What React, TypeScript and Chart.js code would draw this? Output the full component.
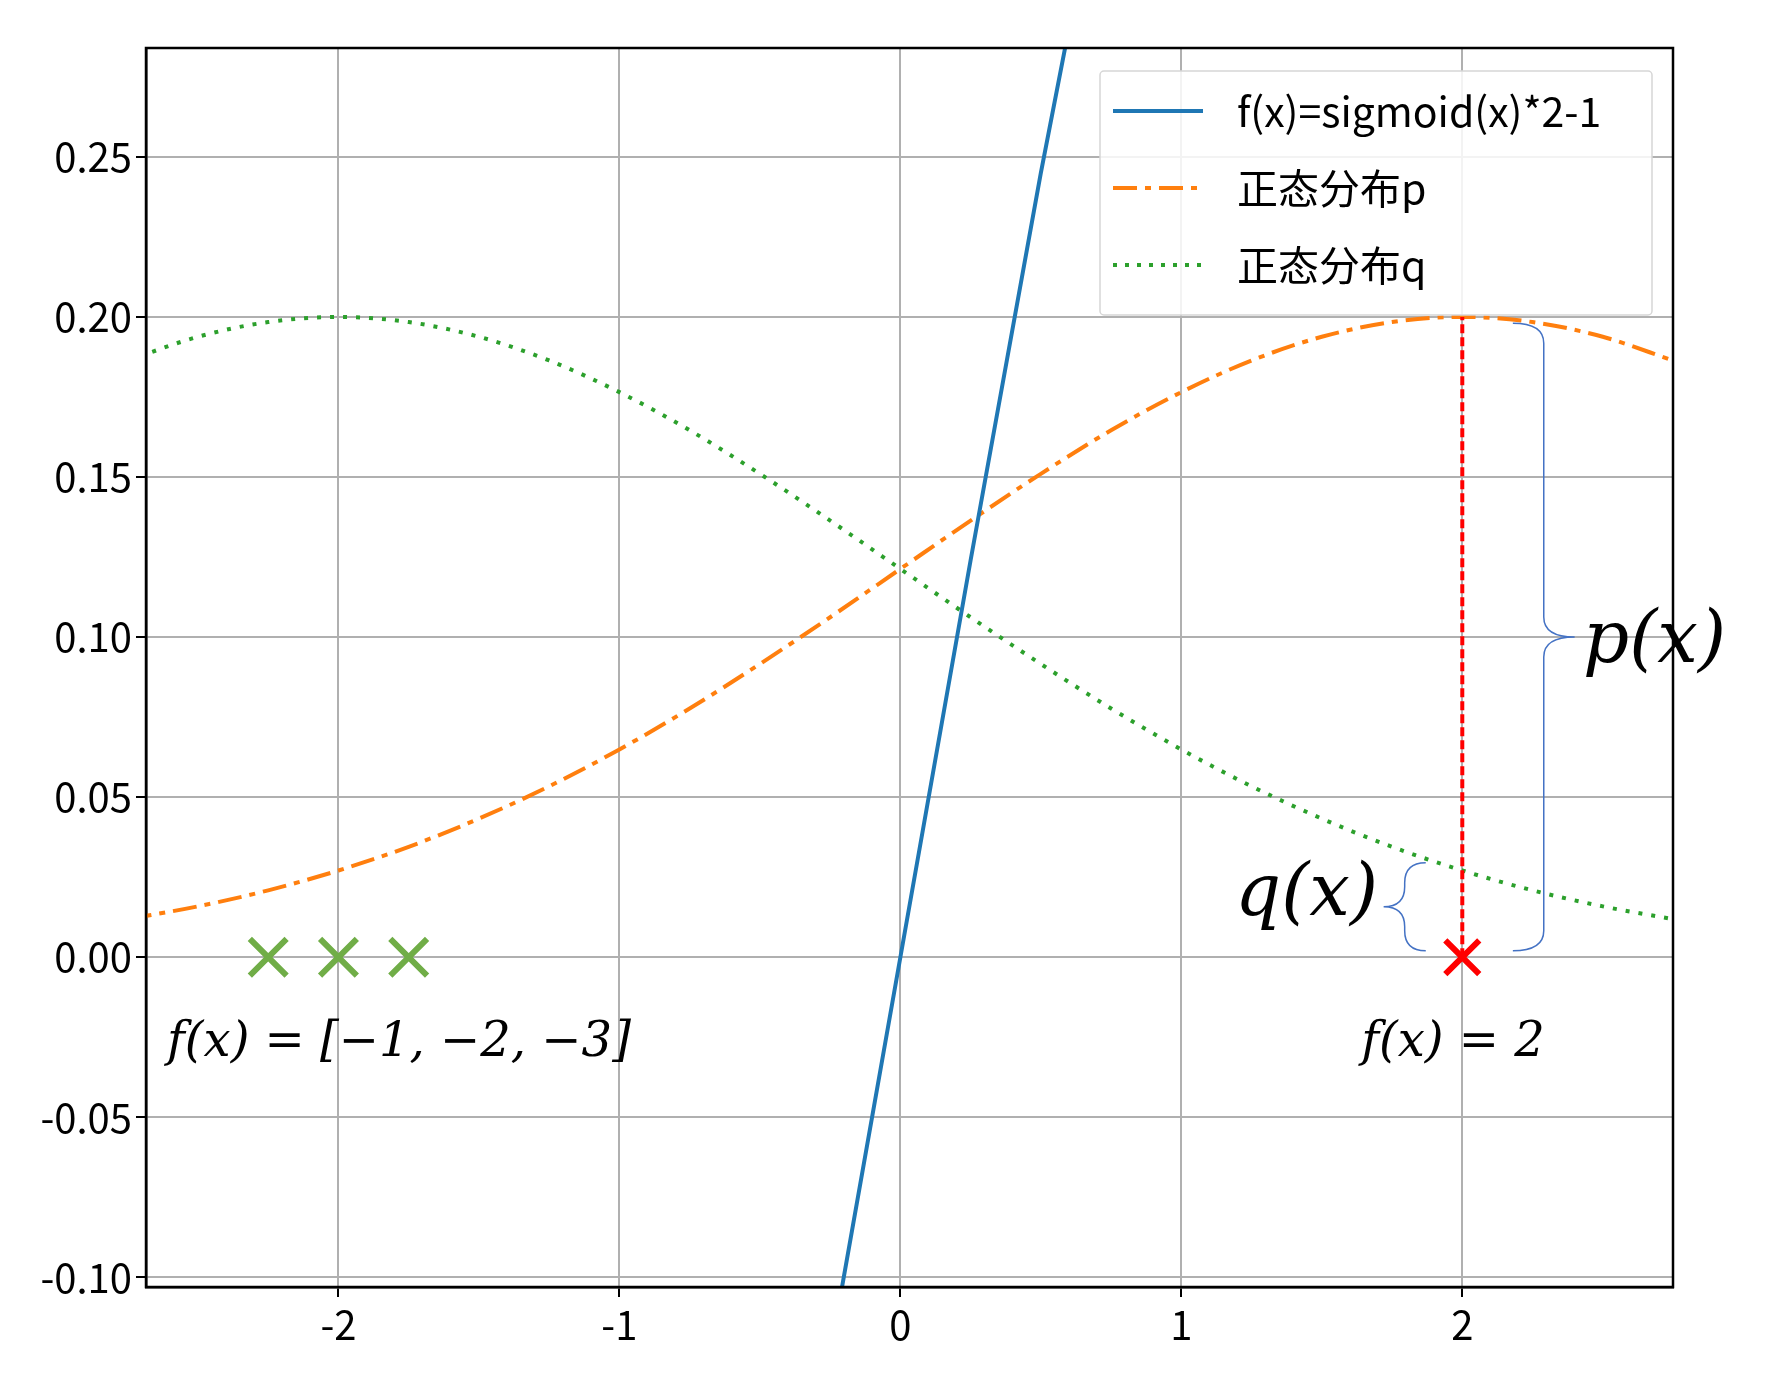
import { Chart, registerables } from "chart.js";
import { useEffect, useRef } from "react";

Chart.register(...registerables);

const xs = [-2.75, -2.5, -2.25, -2, -1.75, -1.5, -1.25, -1, -0.75, -0.5, -0.25, 0, 0.25, 0.5, 0.75, 1, 1.25, 1.5, 1.75, 2, 2.25, 2.5, 2.75];
const pVals = [0.0119, 0.0159, 0.0209, 0.0271, 0.0345, 0.0433, 0.0534, 0.0649, 0.0777, 0.0916, 0.1062, 0.1213, 0.1364, 0.151, 0.1646, 0.1765, 0.1864, 0.1938, 0.1984, 0.2, 0.1984, 0.1938, 0.1864];
const qVals = [0.1864, 0.1938, 0.1984, 0.2, 0.1984, 0.1938, 0.1864, 0.1765, 0.1646, 0.151, 0.1364, 0.1213, 0.1062, 0.0916, 0.0777, 0.0649, 0.0534, 0.0433, 0.0345, 0.0271, 0.0209, 0.0159, 0.0119];
const fXs = [-0.5, -0.25, 0, 0.25, 0.5, 0.75];
const fVals = [-0.245, -0.124, 0, 0.124, 0.245, 0.358];
const greenX = [-2.25, -2, -1.75];
const redX = [2];

const FONT = "'Noto Sans CJK SC', 'Noto Sans', sans-serif";
const SERIF = "'DejaVu Serif', 'Liberation Serif', serif";

function brace(ctx: CanvasRenderingContext2D, x: number, y0: number, y1: number, tipX: number) {
  // vertical curly brace, opening toward tipX side
  const mid = (y0 + y1) / 2;
  const d = tipX - x;
  const r = Math.min(20, Math.abs(y1 - y0) / 4);
  ctx.beginPath();
  ctx.moveTo(x, y0);
  ctx.quadraticCurveTo(x + d * 0.5, y0, x + d * 0.5, y0 + r);
  ctx.lineTo(x + d * 0.5, mid - r);
  ctx.quadraticCurveTo(x + d * 0.5, mid, tipX, mid);
  ctx.quadraticCurveTo(x + d * 0.5, mid, x + d * 0.5, mid + r);
  ctx.lineTo(x + d * 0.5, y1 - r);
  ctx.quadraticCurveTo(x + d * 0.5, y1, x, y1);
  ctx.stroke();
}

const overlay = {
  id: "overlay",
  afterDatasetsDraw(chart: any) {
    const { ctx, scales } = chart;
    const X = (v: number) => scales.x.getPixelForValue(v);
    const Y = (v: number) => scales.y.getPixelForValue(v);
    ctx.save();
    // red dashed line
    ctx.strokeStyle = "#ff0000";
    ctx.lineWidth = 4;
    ctx.setLineDash([9, 4]);
    ctx.beginPath();
    ctx.moveTo(X(2), Y(0));
    ctx.lineTo(X(2), Y(0.2));
    ctx.stroke();
    ctx.setLineDash([]);
    // braces
    ctx.strokeStyle = "#4472c4";
    ctx.lineWidth = 1.5;
    brace(ctx, X(2.18), Y(0.198), Y(0.002), X(2.4));
    brace(ctx, X(1.87), Y(0.0295), Y(0.002), X(1.72));
    // math text
    ctx.fillStyle = "#000";
    ctx.textBaseline = "middle";
    ctx.font = `italic 48px ${SERIF}`;
    ctx.textAlign = "left";
    ctx.fillText("f(x) = [−1, −2, −3]", X(-2.61), Y(-0.027));
    ctx.fillText("f(x) = 2", X(1.64), Y(-0.027));
    ctx.font = `italic 72px ${SERIF}`;
    ctx.textAlign = "right";
    ctx.fillText("q(x)", X(1.7), Y(0.019));
    ctx.textAlign = "left";
    ctx.fillText("p(x)", X(2.43), Y(0.098));
    // legend
    const lx = 1100, ly = 71, lw = 552, lh = 244;
    ctx.fillStyle = "rgba(255,255,255,0.85)";
    ctx.strokeStyle = "#d6d6d6";
    ctx.lineWidth = 1.5;
    ctx.beginPath();
    ctx.roundRect(lx, ly, lw, lh, 4);
    ctx.fill();
    ctx.stroke();
    const rows = [
      { label: "f(x)=sigmoid(x)*2-1", color: "#1f77b4", dash: [] as number[] },
      { label: "正态分布p", color: "#ff7f0e", dash: [24, 8, 6, 8] },
      { label: "正态分布q", color: "#2ca02c", dash: [4, 8] },
    ];
    ctx.font = `41px ${FONT}`;
    ctx.textAlign = "left";
    rows.forEach((r, i) => {
      const cy = 111 + i * 77;
      ctx.strokeStyle = r.color;
      ctx.lineWidth = 4;
      ctx.setLineDash(r.dash);
      ctx.beginPath();
      ctx.moveTo(1113, cy);
      ctx.lineTo(1203, cy);
      ctx.stroke();
      ctx.setLineDash([]);
      ctx.fillStyle = "#000";
      ctx.fillText(r.label, 1237, cy);
    });
    ctx.restore();
  },
};

function ChartCanvas() {
  const ref = useRef<HTMLCanvasElement>(null);
  useEffect(() => {
    document.body.style.margin = "0";
    const canvas = ref.current;
    if (!canvas) return;
    const line = (v: number[], xv: number[]) => v.map((y, i) => ({ x: xv[i], y }));
    const chart = new Chart(canvas, {
      type: "scatter",
      data: {
        datasets: [
          { data: line(fVals, fXs), showLine: true, borderColor: "#1f77b4", borderWidth: 4, pointRadius: 0 },
          { data: line(pVals, xs), showLine: true, borderColor: "#ff7f0e", borderWidth: 4, borderDash: [24, 8, 6, 8], pointRadius: 0, cubicInterpolationMode: "monotone" },
          { data: line(qVals, xs), showLine: true, borderColor: "#2ca02c", borderWidth: 4, borderDash: [4, 9], pointRadius: 0, cubicInterpolationMode: "monotone" },
          { data: greenX.map((x) => ({ x, y: 0 })), pointStyle: "crossRot", pointRadius: 26, borderColor: "#70ad47", borderWidth: 6 },
          { data: redX.map((x) => ({ x, y: 0 })), pointStyle: "crossRot", pointRadius: 24, borderColor: "#ff0000", borderWidth: 6 },
        ],
      },
      options: {
        animation: false,
        responsive: false,
        layout: { padding: { top: 48, right: 109, left: 0, bottom: 0 } },
        plugins: { legend: { display: false }, tooltip: { enabled: false } },
        scales: {
          x: {
            type: "linear", min: -2.685, max: 2.75,
            afterBuildTicks: (s: any) => { s.ticks = [-2, -1, 0, 1, 2].map((v) => ({ value: v })); },
            afterFit: (s: any) => { s.height = 106; },
            grid: { color: "#b0b0b0", lineWidth: 2, tickLength: 10, tickColor: "#000" },
            border: { color: "#000", width: 2.5 },
            ticks: { color: "#000", font: { family: FONT, size: 40 }, padding: 4, callback: (v: any) => String(v) },
          },
          y: {
            type: "linear", min: -0.103, max: 0.284,
            afterBuildTicks: (s: any) => { s.ticks = [-0.1, -0.05, 0, 0.05, 0.1, 0.15, 0.2, 0.25].map((v) => ({ value: v })); },
            afterFit: (s: any) => { s.width = 146; },
            grid: { color: "#b0b0b0", lineWidth: 2, tickLength: 10, tickColor: "#000" },
            border: { color: "#000", width: 2.5 },
            ticks: { color: "#000", font: { family: FONT, size: 40 }, padding: 4, callback: (v: any) => Number(v).toFixed(2) },
          },
        },
      },
      plugins: [
        overlay,
        {
          id: "frame",
          afterDraw(c: any) {
            const { ctx, chartArea: a } = c;
            ctx.save();
            ctx.strokeStyle = "#000";
            ctx.lineWidth = 2.5;
            ctx.strokeRect(a.left, a.top, a.right - a.left, a.bottom - a.top);
            ctx.restore();
          },
        },
      ],
    } as any);
    return () => chart.destroy();
  }, []);
  return <canvas ref={ref} width={1782} height={1393} style={{ display: "block", background: "#fff" }} />;
}

export default function App() {
  return <ChartCanvas />;
}
